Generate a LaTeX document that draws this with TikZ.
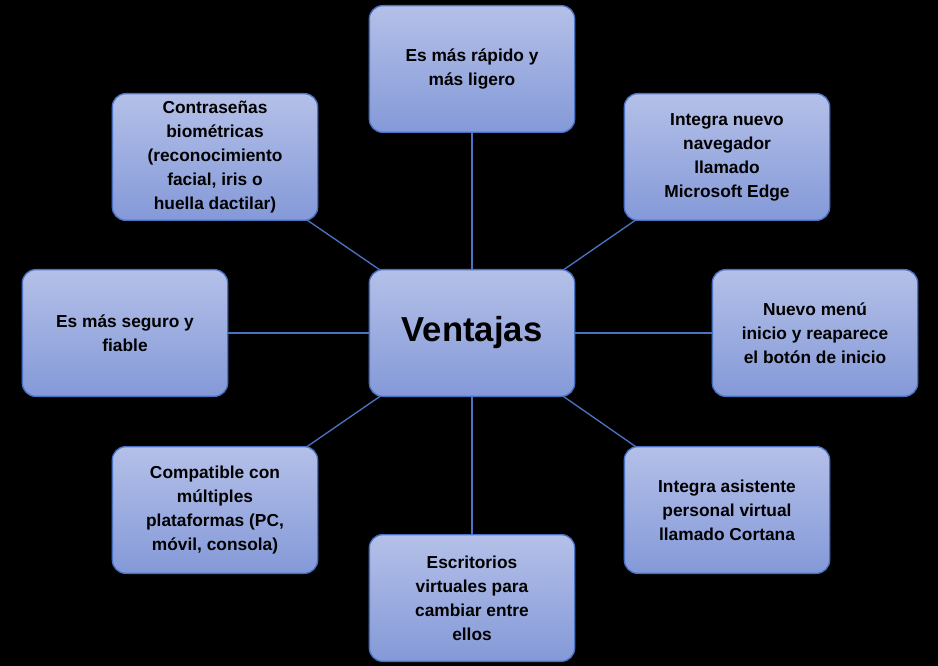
\documentclass[tikz,border=0pt]{standalone}
\usepackage{fontspec}
\setmainfont{Liberation Sans}
\definecolor{edge}{HTML}{4A72C4}
\definecolor{topc}{HTML}{B4C0E8}
\definecolor{botc}{HTML}{8499D8}
\begin{document}
\begin{tikzpicture}[x=0.75pt,y=-0.75pt,
  box/.style={draw=edge,line width=1pt,rounded corners=10pt,top color=topc,bottom color=botc,
    minimum width=154pt,minimum height=95pt,align=center,font=\bfseries\fontsize{13}{18}\selectfont,text=black},
  conn/.style={draw=edge,line width=1pt}]
\fill[black] (0,0) rectangle (938,666);
\useasboundingbox (0,0) rectangle (938,666);
\coordinate (cc) at (472,333);
\draw[conn] (cc)--(472,69);
\draw[conn] (cc)--(215,157);
\draw[conn] (cc)--(727,157);
\draw[conn] (cc)--(125,333);
\draw[conn] (cc)--(815,333);
\draw[conn] (cc)--(215,510);
\draw[conn] (cc)--(727,510);
\draw[conn] (cc)--(472,598);
\node[box,font=\bfseries\fontsize{26}{30}\selectfont] (c) at (cc) {Ventajas};
\node[box] (t) at (472,69) {Es más rápido y\\más ligero};
\node[box] (tl) at (215,157) {Contraseñas\\biométricas\\(reconocimiento\\facial, iris o\\huella dactilar)};
\node[box] (tr) at (727,157) {Integra nuevo\\navegador\\llamado\\Microsoft Edge};
\node[box] (l) at (125,333) {Es más seguro y\\fiable};
\node[box] (r) at (815,333) {Nuevo menú\\inicio y reaparece\\el botón de inicio};
\node[box] (bl) at (215,510) {Compatible con\\múltiples\\plataformas (PC,\\móvil, consola)};
\node[box] (br) at (727,510) {Integra asistente\\personal virtual\\llamado Cortana};
\node[box] (b) at (472,598) {Escritorios\\virtuales para\\cambiar entre\\ellos};
\end{tikzpicture}
\end{document}
